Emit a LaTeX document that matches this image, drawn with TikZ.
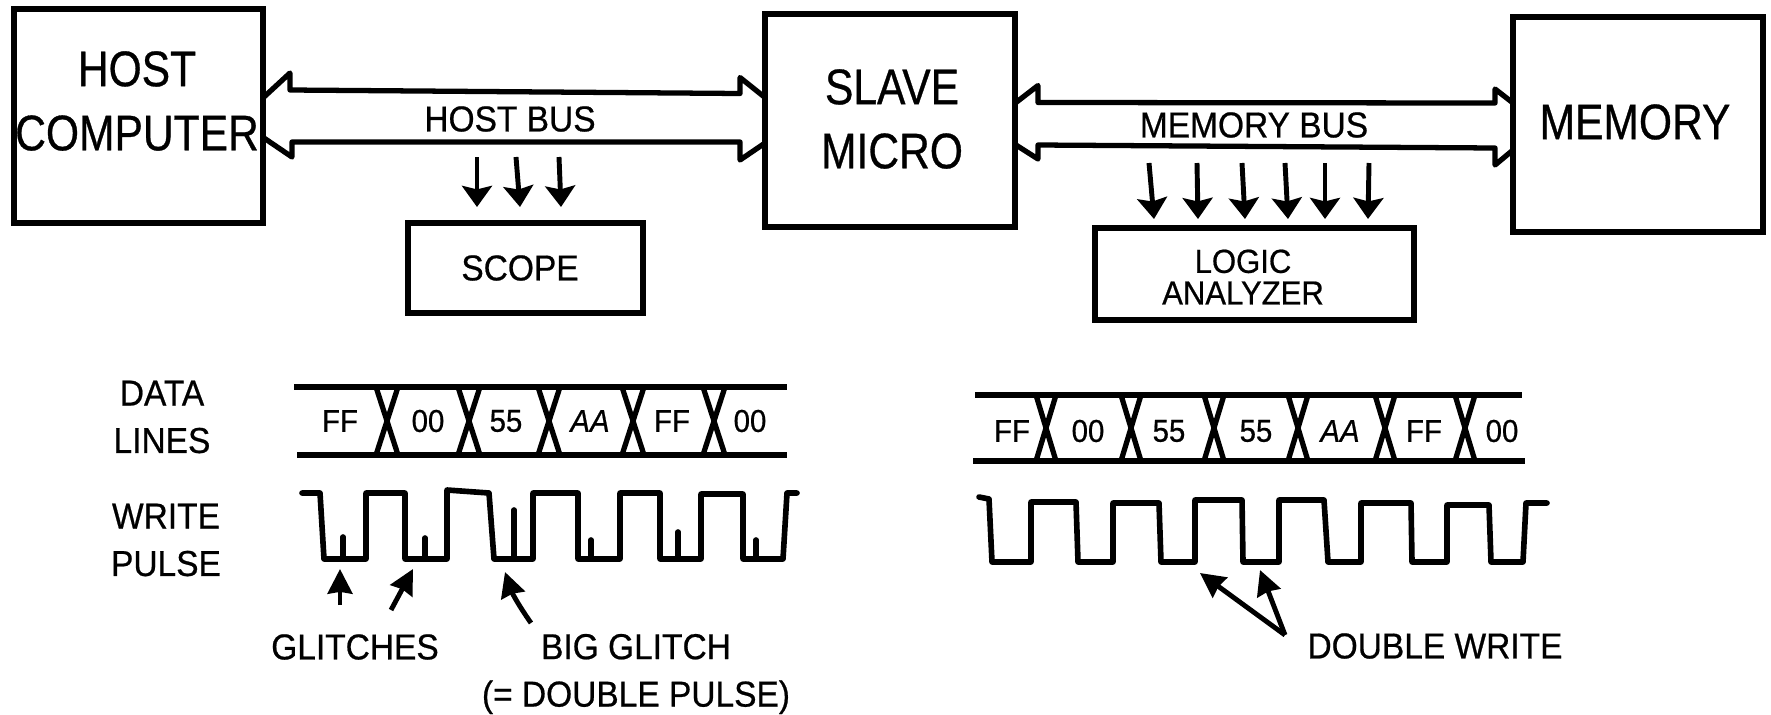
\documentclass[tikz,border=0pt]{standalone}
\usepackage{fontspec}
\setmainfont[FakeStretch=0.93,FakeBold=0.6]{Liberation Sans}
\newfontfamily\bigfont[FakeStretch=0.85,FakeBold=0.6]{Liberation Sans}
\usetikzlibrary{arrows.meta,calc}

\begin{document}
\begin{tikzpicture}[
    x=0.02cm, y=-0.02cm,
    box/.style={draw, line width=3pt, outer sep=0pt, inner sep=0pt},
    biglbl/.style={font=\fontsize{28.5}{36.5}\bigfont\selectfont, align=center, inner sep=0pt},
    lbl/.style={font=\fontsize{20.5}{27}\selectfont, align=center, inner sep=0pt},
    val/.style={font=\fontsize{18}{20}\selectfont, inner sep=0pt},
    busline/.style={line width=3pt, line join=round},
    tap/.style={line width=2.8pt, -{Stealth[length=12pt,width=17pt,inset=2pt]}},
    note/.style={line width=2.8pt, -{Stealth[length=14pt,width=14pt,inset=1pt]}},
    dataline/.style={line width=3.6pt},
    crossing/.style={line width=3pt},
    pulse/.style={line width=3.2pt, line join=round, line cap=round},
]
\useasboundingbox (0,0) rectangle (1771,714);

% --- top row of boxes ---
\node[box, minimum width=4.98cm, minimum height=4.28cm] (host) at (138.5,116) {};
\node[biglbl] (hostlbl) at (137,101) {HOST\\COMPUTER};
\node[box, minimum width=5cm, minimum height=4.26cm] (slave) at (890,120.5) {};
\node[biglbl] (slavelbl) at (892,119) {SLAVE\\MICRO};
\node[box, minimum width=5cm, minimum height=4.3cm] (memory) at (1638,124.5) {};
\node[biglbl] (memorylbl) at (1635,122) {MEMORY};

% probes
\node[box, minimum width=4.7cm, minimum height=1.8cm] (scope) at (525.5,268) {};
\node[lbl] (scopelbl) at (520,268) {SCOPE};
\node[box, minimum width=6.38cm, minimum height=1.84cm] (logic) at (1254.5,274) {};
\node[lbl, font=\fontsize{19}{18}\selectfont] (logiclbl) at (1243,277) {LOGIC\\ANALYZER};

% host bus
\draw[busline] ($(host.east)+(1,-19)$) -- ++(26,-24) -- ++(0,17) -- ($(slave.west)+(-25,-27)$)
    -- ++(0,-16) -- ($(slave.west)+(0,-23)$);
\draw[busline] ($(host.east)+(1,22)$) -- ++(28,19) -- ++(0,-15) -- ($(slave.west)+(-25,21.5)$)
    -- ++(0,18) -- ($(slave.west)+(0,22.5)$);
\node[lbl] (hostbus) at (510,119) {HOST BUS};

% memory bus
\draw[busline] ($(slave.east)+(1,-18)$) -- ++(22,-17) -- ++(0,17) -- ($(memory.west)+(-18,-21.5)$)
    -- ++(0,-14) -- ($(memory.west)+(0,-21.5)$);
\draw[busline] ($(slave.east)+(1,24.5)$) -- ++(22,14) -- ++(0,-14) -- ($(memory.west)+(-18,23.5)$)
    -- ++(0,17) -- ($(memory.west)+(0,25.5)$);
\node[lbl] (memorybus) at (1254,125) {MEMORY BUS};

% taps down to the probes
\foreach \i/\xa/\xb in {1/477/477,2/516/520,3/559/561} {
    \coordinate (hostup\i) at (\xa,157);
    \coordinate (hostdn\i) at (\xb,207);
    \draw[tap] (hostup\i) -- (hostdn\i);
}
\foreach \i/\xa/\xb in {1/1149/1154,2/1197/1198,3/1242/1245,4/1285/1288,5/1325/1325,6/1369/1368} {
    \coordinate (memup\i) at (\xa,163);
    \coordinate (memdn\i) at (\xb,219);
    \draw[tap] (memup\i) -- (memdn\i);
}

% --- left timing diagram ---
\node[lbl] (datalbl) at (162,417) {DATA\\LINES};
\node[lbl] (writelbl) at (166,540) {WRITE\\PULSE};
\draw[dataline] (294,387) -- (787,387);
\draw[dataline] (297,455) -- (787,455);
\foreach \x in {387,469,549,633,714} {
    \draw[crossing] (\x-11,387) -- (\x+11,455);
    \draw[crossing] (\x+11,387) -- (\x-11,455);
}
\foreach \i/\x/\v in {1/340/FF,2/428/00,3/506/55,5/672/FF,6/750/00} {
    \node[val] (lval\i) at (\x,421) {\v};
}
\node[val, font=\fontsize{18}{20}\itshape\selectfont] (lval4) at (590,421) {AA};
\draw[pulse] (302,493) -- (320,493) -- (324,559) -- (366,559) -- (366,493) -- (405,493) -- (405,559)
    -- (447,559) -- (447,490) -- (489,493) -- (494,559) -- (533,559) -- (533,493) -- (578,493)
    -- (578,559) -- (620,559) -- (620,493) -- (660,493) -- (660,559) -- (701,559) -- (701,494)
    -- (743,494) -- (743,559) -- (783,559) -- (787,493) -- (797,493);
\foreach \x/\y in {343/537,425/538,514/510,591/540,678/532,756/540} {
    \draw[pulse] (\x,559) -- (\x,\y);
}

% glitch callouts
\coordinate (glitcha) at (340,605);
\coordinate (glitchat) at (340,569);
\coordinate (glitchb) at (391,610);
\coordinate (glitchbt) at (413,569);
\coordinate (glitchc) at (531,623);
\coordinate (glitchct) at (505,572);
\draw[note] (glitcha) -- (glitchat);
\draw[note] (glitchb) -- (glitchbt);
\draw[note] (glitchc) to[bend left=8] (glitchct);
\node[lbl] (glitches) at (355,647) {GLITCHES};
\node[lbl] (bigglitch) at (636,674) {BIG GLITCH\\(= DOUBLE PULSE)};

% --- right timing diagram ---
\draw[dataline] (975,395) -- (1522,395);
\draw[dataline] (973,461) -- (1525,461);
\foreach \x in {1046,1131,1214,1298,1385,1465} {
    \draw[crossing] (\x-10,395) -- (\x+10,461);
    \draw[crossing] (\x+10,395) -- (\x-10,461);
}
\foreach \i/\x/\v in {1/1012/FF,2/1088/00,3/1169/55,4/1256/55,6/1424/FF,7/1502/00} {
    \node[val] (rval\i) at (\x,431) {\v};
}
\node[val, font=\fontsize{18}{20}\itshape\selectfont] (rval5) at (1340,431) {AA};
\draw[pulse] (979,497) -- (989,499) -- (992,562) -- (1031,562) -- (1031,502) -- (1076,502) -- (1078,562)
    -- (1113,562) -- (1113,503) -- (1159,503) -- (1161,562) -- (1195,562) -- (1195,500) -- (1242,500)
    -- (1243,562) -- (1279,562) -- (1279,500) -- (1324,500) -- (1328,562) -- (1361,562) -- (1361,503)
    -- (1411,503) -- (1412,562) -- (1447,562) -- (1447,505) -- (1489,505) -- (1491,562) -- (1523,562)
    -- (1526,503) -- (1547,503);

% double write callout
\coordinate (dwfork) at (1285,635);
\coordinate (dwa) at (1200,573);
\coordinate (dwb) at (1260,570);
\draw[note] (dwfork) -- (dwa);
\draw[note] (dwfork) -- (dwb);
\node[lbl] (dwrite) at (1435,646) {DOUBLE WRITE};

\end{tikzpicture}
\end{document}
